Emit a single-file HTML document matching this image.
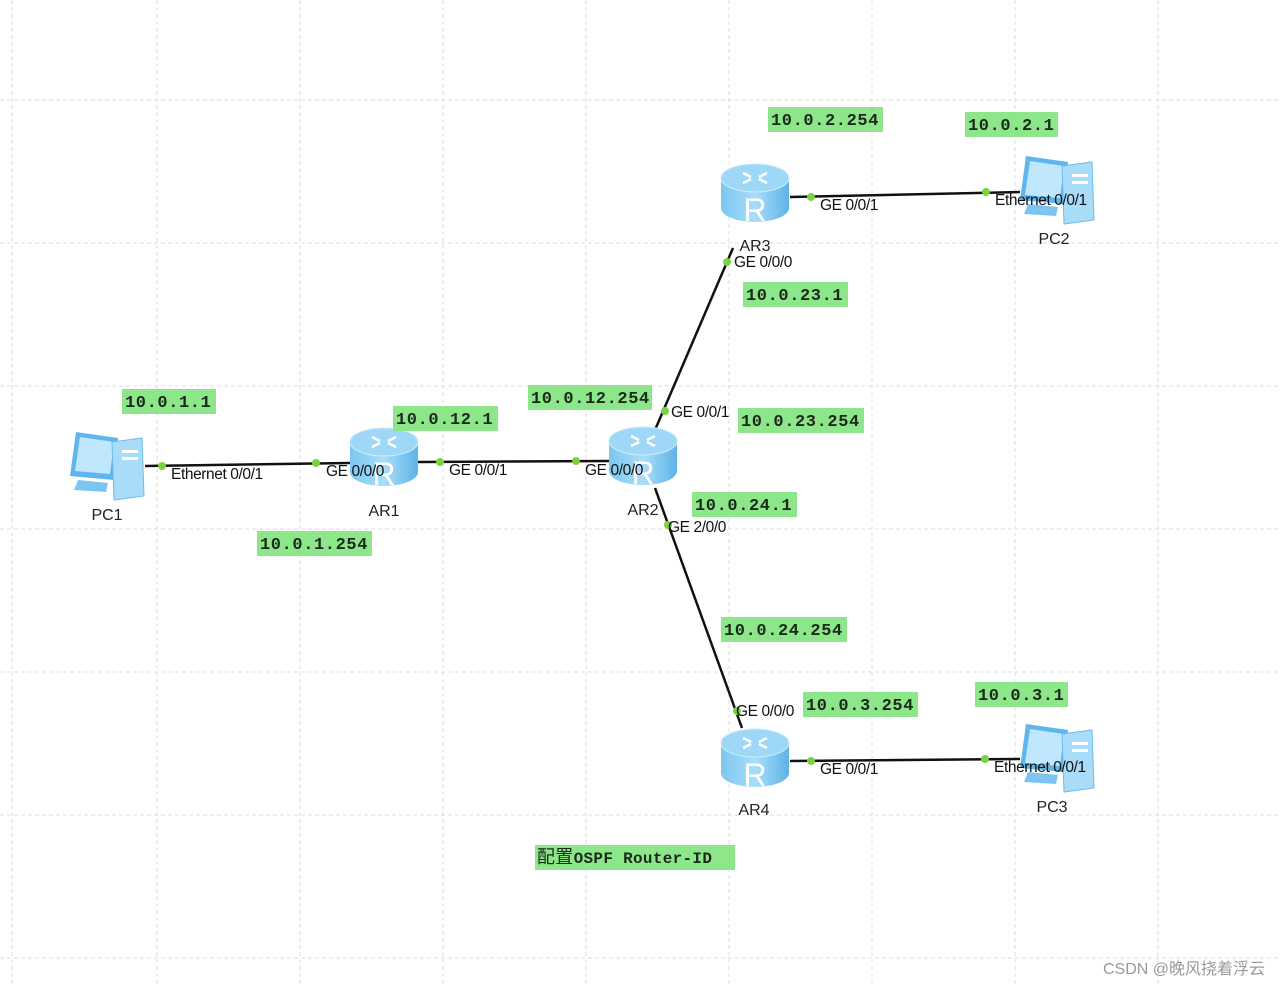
<!DOCTYPE html>
<html><head><meta charset="utf-8"><style>
html,body{margin:0;padding:0;background:#fff;}
svg{display:block;}
.l{font-family:"Liberation Mono",monospace;font-size:17px;font-weight:bold;fill:#1a2a1a;letter-spacing:0.6px;}
.p{font-family:"Liberation Sans",sans-serif;font-size:15.5px;fill:#111;letter-spacing:-0.4px;}
.n{font-family:"Liberation Sans",sans-serif;font-size:16px;fill:#222;}
</style></head><body>
<svg width="1280" height="985" viewBox="0 0 1280 985" xmlns="http://www.w3.org/2000/svg">
<defs>
<linearGradient id="rg" x1="0" x2="1"><stop offset="0" stop-color="#7cc7f0"/><stop offset="0.5" stop-color="#a8defa"/><stop offset="1" stop-color="#5fb3e6"/></linearGradient>
<g id="rt">
<rect x="-34" y="-15" width="68" height="30" fill="url(#rg)"/>
<ellipse cx="0" cy="15" rx="34" ry="14" fill="url(#rg)"/>
<ellipse cx="0" cy="-15" rx="34" ry="14" fill="#9fd8f6" stroke="#c8ecfc" stroke-width="1"/>
<path d="M-12,-20 l8,4 M12,-20 l-8,4 M-12,-10 l8,-4 M12,-10 l-8,-4" stroke="#fff" stroke-width="2.5"/>
<text x="0" y="28" text-anchor="middle" font-family="Liberation Sans,sans-serif" font-size="32" fill="#fff">R</text>
</g>
<g id="pc">
<polygon points="8,2 50,8 46,50 2,46" fill="#5fb6ee"/>
<polygon points="12,7 46,12 42,44 7,41" fill="#bfe8ff"/>
<polygon points="10,50 40,53 38,62 6,60" fill="#7cc4f2"/>
<polygon points="44,12 74,8 76,66 46,70" fill="#a9dcf8" stroke="#6fbbe9"/>
<rect x="54" y="20" width="16" height="3" fill="#fff"/>
<rect x="54" y="27" width="16" height="3" fill="#fff"/>
</g>
</defs>
<g stroke="#dcdcdc" stroke-width="1" stroke-dasharray="4,3">
<line x1="12" y1="0" x2="12" y2="985"/><line x1="157" y1="0" x2="157" y2="985"/><line x1="300" y1="0" x2="300" y2="985"/><line x1="443" y1="0" x2="443" y2="985"/><line x1="586" y1="0" x2="586" y2="985"/><line x1="729" y1="0" x2="729" y2="985"/><line x1="872" y1="0" x2="872" y2="985"/><line x1="1015" y1="0" x2="1015" y2="985"/><line x1="1158" y1="0" x2="1158" y2="985"/>
<line x1="0" y1="100" x2="1280" y2="100"/><line x1="0" y1="243" x2="1280" y2="243"/><line x1="0" y1="386" x2="1280" y2="386"/><line x1="0" y1="529" x2="1280" y2="529"/><line x1="0" y1="672" x2="1280" y2="672"/><line x1="0" y1="815" x2="1280" y2="815"/><line x1="0" y1="958" x2="1280" y2="958"/>
</g>
<g stroke="#111" stroke-width="2.5">
<line x1="145" y1="466" x2="350" y2="463"/>
<line x1="418" y1="462" x2="610" y2="461"/>
<line x1="655" y1="430" x2="733" y2="248"/>
<line x1="655" y1="488" x2="742" y2="728"/>
<line x1="790" y1="197" x2="1020" y2="192"/>
<line x1="790" y1="761" x2="1020" y2="759"/>
</g>
<use href="#pc" x="68" y="430"/>
<use href="#pc" x="1018" y="154"/>
<use href="#pc" x="1018" y="722"/>
<use href="#rt" x="384" y="457"/>
<use href="#rt" x="643" y="456"/>
<use href="#rt" x="755" y="193"/>
<use href="#rt" x="755" y="758"/>
<g fill="#7bd23e">
<circle cx="162" cy="466" r="4"/><circle cx="316" cy="463" r="4"/><circle cx="440" cy="462" r="4"/><circle cx="576" cy="461" r="4"/><circle cx="665" cy="411" r="4"/><circle cx="727" cy="262" r="4"/><circle cx="668" cy="525" r="4"/><circle cx="737" cy="711" r="4"/><circle cx="811" cy="197" r="4"/><circle cx="986" cy="192" r="4"/><circle cx="811" cy="761" r="4"/><circle cx="985" cy="759" r="4"/>
</g>
<g class="p">
<text x="171" y="479">Ethernet 0/0/1</text>
<text x="326" y="476">GE 0/0/0</text>
<text x="449" y="475">GE 0/0/1</text>
<text x="585" y="475">GE 0/0/0</text>
<text x="671" y="417">GE 0/0/1</text>
<text x="734" y="267">GE 0/0/0</text>
<text x="668" y="532">GE 2/0/0</text>
<text x="736" y="716">GE 0/0/0</text>
<text x="820" y="210">GE 0/0/1</text>
<text x="995" y="205">Ethernet 0/0/1</text>
<text x="820" y="774">GE 0/0/1</text>
<text x="994" y="772">Ethernet 0/0/1</text>
</g>
<g class="n" text-anchor="middle">
<text x="107" y="520">PC1</text><text x="384" y="516">AR1</text><text x="643" y="515">AR2</text><text x="755" y="251">AR3</text><text x="754" y="815">AR4</text><text x="1054" y="244">PC2</text><text x="1052" y="812">PC3</text>
</g>
<g fill="#8ee68a">
<rect x="768" y="107" width="115" height="25"/><rect x="965" y="112" width="93" height="25"/><rect x="743" y="282" width="105" height="25"/><rect x="122" y="389" width="94" height="25"/><rect x="528" y="385" width="124" height="25"/><rect x="393" y="406" width="105" height="25"/><rect x="738" y="408" width="126" height="25"/><rect x="692" y="492" width="105" height="25"/><rect x="257" y="531" width="115" height="25"/><rect x="721" y="617" width="126" height="25"/><rect x="803" y="692" width="115" height="25"/><rect x="975" y="682" width="93" height="25"/><rect x="535" y="845" width="200" height="25"/>
</g>
<g class="l">
<text x="771" y="125">10.0.2.254</text><text x="968" y="130">10.0.2.1</text><text x="746" y="300">10.0.23.1</text><text x="125" y="407">10.0.1.1</text><text x="531" y="403">10.0.12.254</text><text x="396" y="424">10.0.12.1</text><text x="741" y="426">10.0.23.254</text><text x="695" y="510">10.0.24.1</text><text x="260" y="549">10.0.1.254</text><text x="724" y="635">10.0.24.254</text><text x="806" y="710">10.0.3.254</text><text x="978" y="700">10.0.3.1</text>
<text x="537" y="863" font-size="16" letter-spacing="0.3"><tspan font-family="Noto Sans CJK SC,sans-serif" font-size="18" font-weight="normal">配置</tspan>OSPF Router-ID</text>
</g>
<text x="1265" y="974" text-anchor="end" font-family="Liberation Sans,Noto Sans CJK SC,sans-serif" font-size="16" fill="#999">CSDN @晚风挠着浮云</text>
</svg>
</body></html>
